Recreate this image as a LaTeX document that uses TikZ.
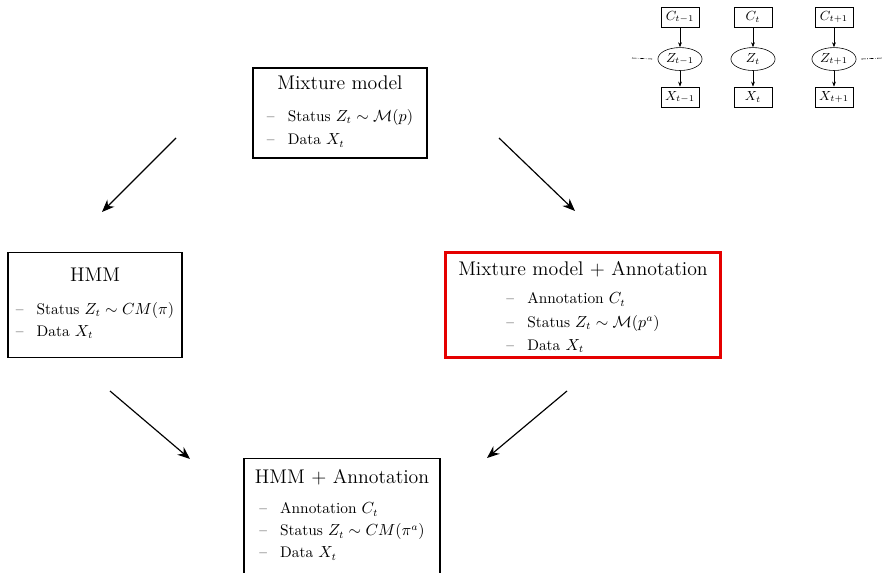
\documentclass[tikz,border=0pt]{standalone}
\usepackage{amsmath,amssymb}
\usetikzlibrary{arrows.meta,positioning,shapes.geometric,calc}

\begin{document}
\begin{tikzpicture}[
  x=0.024cm, y=-0.024cm,
  model/.style={rectangle, draw, line width=0.9pt, align=center, minimum width=4.18cm, minimum height=2.52cm,
    font=\fontsize{10.5}{13}\selectfont},
  annot/.style={model, draw=red!90!black, line width=1.5pt},
  obs/.style={rectangle, draw, thin, font=\small, minimum width=0.91cm, minimum height=0.48cm, inner sep=1pt},
  hid/.style={ellipse, draw, thin, font=\small, minimum width=1.06cm, minimum height=0.55cm, inner sep=0pt},
  arrow/.style={-{Stealth[length=3mm, width=2.4mm]}, line width=0.8pt},
  edge/.style={-{Stealth[length=1.2mm]}, thin},
]
\useasboundingbox (0,0) rectangle (887,573);

% the four models
\node[model, minimum height=2.16cm] (mix) at (340,113) {{\fontsize{13.5}{16}\selectfont Mixture model}\\[12pt]
  \begin{tabular}{@{}l@{}}
  --\hspace{9pt}Status $Z_t\sim\mathcal{M}(p)$\\[3pt]
  --\hspace{9pt}Data $X_t$
  \end{tabular}};
\node[model] (hmm) at (95,305) {{\fontsize{13.5}{16}\selectfont HMM}\\[12pt]
  \begin{tabular}{@{}l@{}}
  --\hspace{9pt}Status $Z_t\sim CM(\pi)$\\[2pt]
  --\hspace{9pt}Data $X_t$
  \end{tabular}};
\node[annot, minimum width=6.6cm, inner ysep=0pt] (mixa) at (583,305) {{\fontsize{13.5}{16}\selectfont\rule{0pt}{15pt}Mixture model + Annotation}\\[8pt]
  \begin{tabular}{@{}l@{}}
  --\hspace{9pt}Annotation $C_t$\\[3pt]
  --\hspace{9pt}Status $Z_t\sim\mathcal{M}(p^a)$\\[3pt]
  --\hspace{9pt}Data $X_t$
  \end{tabular}};
\node[model, minimum width=4.7cm, minimum height=0pt, anchor=north, inner ysep=7pt] (hmma) at (342,458) {{\fontsize{13.5}{16}\selectfont HMM + Annotation}\\[10pt]
  \begin{tabular}{@{}l@{}}
  --\hspace{9pt}Annotation $C_t$\\[2pt]
  --\hspace{9pt}Status $Z_t\sim CM(\pi^a)$\\[2pt]
  --\hspace{9pt}Data $X_t$\\[14pt]
  \end{tabular}};

\coordinate (a1s) at (176,138); \coordinate (a1e) at (102,212);
\coordinate (a2s) at (499,138); \coordinate (a2e) at (575,211);
\coordinate (a3s) at (110,391); \coordinate (a3e) at (190,459);
\coordinate (a4s) at (567,391); \coordinate (a4e) at (487,458);
\draw[arrow] (a1s) -- (a1e);
\draw[arrow] (a2s) -- (a2e);
\draw[arrow] (a3s) -- (a3e);
\draw[arrow] (a4s) -- (a4e);

% graphical model
\node[obs] (c1) at (680,17) {$C_{t-1}$};
\node[obs] (c2) at (753,17) {$C_t$};
\node[obs] (c3) at (834,17) {$C_{t+1}$};
\node[hid, below=0.48cm of c1] (z1) {$Z_{t-1}$};
\node[hid, below=0.48cm of c2] (z2) {$Z_t$};
\node[hid, below=0.48cm of c3] (z3) {$Z_{t+1}$};
\node[obs, below=0.38cm of z1] (x1) {$X_{t-1}$};
\node[obs, below=0.38cm of z2] (x2) {$X_t$};
\node[obs, below=0.38cm of z3] (x3) {$X_{t+1}$};

\draw[edge] (c1) -- (z1);
\draw[edge] (c2) -- (z2);
\draw[edge] (c3) -- (z3);
\draw[edge] (z1) -- (x1);
\draw[edge] (z2) -- (x2);
\draw[edge] (z3) -- (x3);

\coordinate (lft) at (632,58);
\coordinate (rgt) at (882,58);
\draw[densely dash dot, thin] (lft) -- ($(z1.west)+(-5,0)$);
\draw[densely dash dot, thin] ($(z3.east)+(5,0)$) -- (rgt);
\end{tikzpicture}
\end{document}
